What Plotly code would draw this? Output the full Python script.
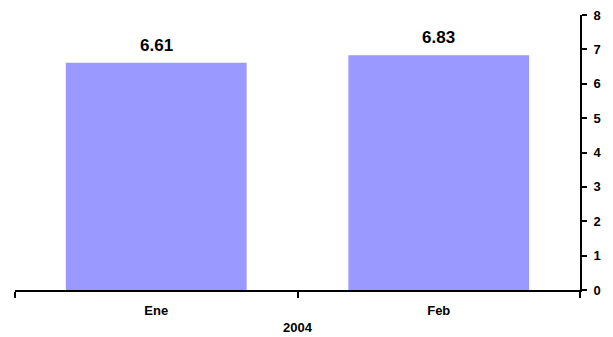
import plotly.graph_objects as go

months = ["Ene", "Feb"]
values = [6.61, 6.83]
year_label = "2004"
y_ticks = [0, 1, 2, 3, 4, 5, 6, 7, 8]

FONT = "Liberation Sans, Arial"

fig = go.Figure(
    go.Bar(
        x=months,
        y=values,
        marker=dict(color="#9999FF", line=dict(width=0)),
        cliponaxis=False,
    )
)

# value labels above each bar
for m, v in zip(months, values):
    fig.add_annotation(
        x=m, y=v, text=f"<b>{v:.2f}</b>", showarrow=False,
        yanchor="bottom", yshift=6,
        font=dict(family=FONT, size=17, color="black"),
    )

fig.update_layout(
    width=613,
    height=337,
    margin=dict(l=15, r=33, t=15, b=47),
    paper_bgcolor="white",
    plot_bgcolor="white",
    bargap=0.36,
    showlegend=False,
    font=dict(family=FONT, size=13, color="black"),
)

fig.update_xaxes(
    automargin=False,
    showline=True,
    linecolor="black",
    linewidth=2,
    ticks="outside",
    tickson="boundaries",
    ticklen=6,
    tickwidth=2,
    tickcolor="black",
    ticklabelstandoff=7,
    tickfont=dict(size=13, family=FONT, weight="bold"),
    title=dict(text="<b>" + year_label + "</b>", standoff=6,
               font=dict(size=13, family=FONT)),
    showgrid=False,
    zeroline=False,
)

fig.update_yaxes(
    automargin=False,
    side="right",
    range=[0, 8],
    tickvals=y_ticks,
    showline=True,
    linecolor="black",
    linewidth=2,
    ticks="outside",
    ticklen=5,
    tickwidth=2,
    tickcolor="black",
    ticklabelstandoff=4,
    tickfont=dict(size=13, family=FONT, weight="bold"),
    showgrid=False,
    zeroline=False,
)

fig.write_html("out.html")
